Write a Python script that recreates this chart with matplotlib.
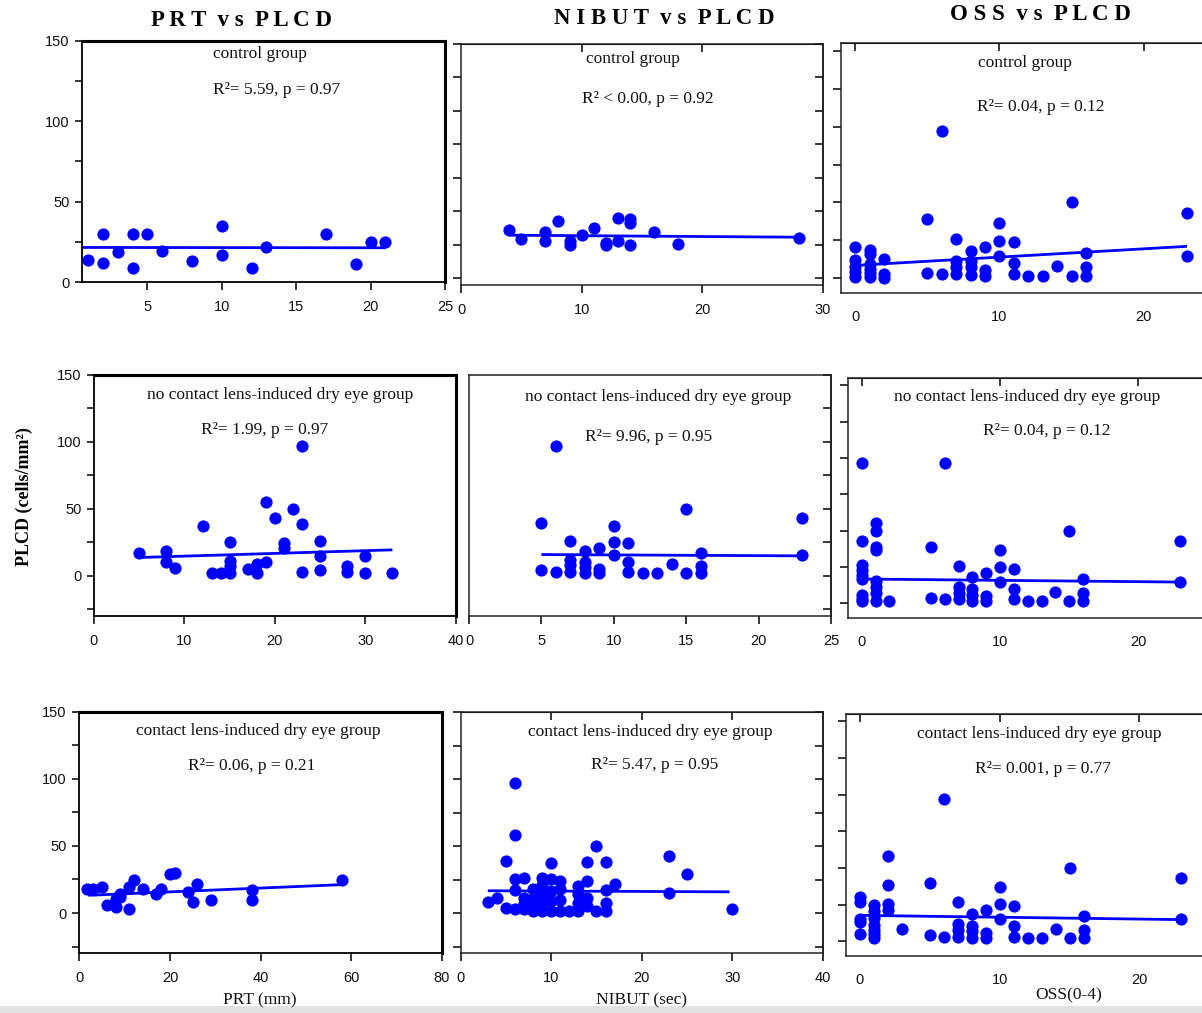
import matplotlib
matplotlib.use("Agg")
import matplotlib.pyplot as plt
from matplotlib.patches import Rectangle
import numpy as np

# ---------------- data ----------------
# Row 1: control group
prt_ctrl_x = [1, 2, 2, 3, 4, 4, 5, 6, 8, 10, 10, 12, 13, 17, 19, 20, 21]
prt_ctrl_y = [14, 30, 12, 18.5, 30, 9, 30, 19, 13, 35, 17, 9, 22, 30, 11, 25, 25]
prt_ctrl_line_x = [0.6, 21]
prt_ctrl_line_y = [21.5, 21.3]

nibut_ctrl_x = [4, 5, 7, 7, 8, 9, 9, 10, 11, 12, 12, 13, 13, 14, 14, 14, 16, 18, 28]
nibut_ctrl_y = [11.2, 4.3, 9.5, 2.5, 18.1, 2.5, 0, 7.5, 12.2, 1.3, 0, 19.9, 3.2, 19.2, 16.6, 0, 9.5, 0.5, 5.2]
nibut_ctrl_line_x = [4, 28]
nibut_ctrl_line_y = [7.2, 5.7]

oss_ctrl_x = [0, 0, 0, 0, 0, 1, 1, 1, 1, 1, 1, 2, 2, 2, 5, 5, 6, 6, 7, 7, 7, 7,
              8, 8, 8, 8, 9, 9, 9, 10, 10, 10, 11, 11, 11, 12, 13, 14, 15, 15,
              16, 16, 16, 23, 23]
oss_ctrl_y = [20.6, 12.2, 7.3, 4.0, 0.7, 18.8, 16.2, 9.5, 6.2, 3.3, 0.7, 12.8, 2.9, 0,
              38.9, 3.5, 96.9, 2.7, 25.7, 11.1, 7.3, 2.9, 17.9, 11.1, 7.3, 1.8,
              20.6, 5.5, 1.5, 36.7, 24.8, 14.6, 24.1, 10.0, 2.9, 1.5, 1.5, 7.7,
              50, 1.5, 16.8, 7.1, 1.5, 42.9, 14.6]
oss_ctrl_line_x = [0, 23]
oss_ctrl_line_y = [8.4, 21.0]

# Row 2: no contact lens-induced dry eye group
prt_nocl_x = [5, 8, 8, 9, 12, 13, 14, 15, 15, 15, 15, 17, 18, 18, 19, 19, 20, 21, 21,
              22, 23, 23, 23, 25, 25, 25, 28, 28, 30, 30, 33]
prt_nocl_y = [17, 18.2, 10, 6.2, 37, 2, 2, 25, 11, 7, 2, 5, 9, 2, 55, 10, 43, 24.4, 21,
              50, 97, 39, 3, 26, 15, 4, 7.5, 3, 15, 2, 2]
prt_nocl_line_x = [5, 33]
prt_nocl_line_y = [13.7, 19.4]

nibut_nocl_x = [5, 5, 6, 6, 7, 7, 7, 7, 8, 8, 8, 8, 9, 9, 9, 10, 10, 10, 11, 11, 11,
                12, 13, 14, 15, 15, 16, 16, 16, 23, 23]
nibut_nocl_y = [4, 39.3, 97, 3, 26, 12, 8, 3, 18.7, 10.7, 6.5, 2, 21, 5, 2, 37.3, 25.6,
                15.2, 24.4, 10, 3, 2, 2, 8.5, 50, 2, 17.4, 7.5, 2, 43.3, 15.2]
nibut_nocl_line_x = [5, 23]
nibut_nocl_line_y = [15.9, 14.9]

oss_nocl_x = [0, 0, 0, 0, 0, 0, 0, 0, 0, 1, 1, 1, 1, 1, 1, 1, 1, 2, 5, 5, 6, 6,
              7, 7, 7, 7, 8, 8, 8, 8, 9, 9, 9, 10, 10, 10, 11, 11, 11, 12, 13, 14,
              15, 15, 16, 16, 16, 23, 23]
oss_nocl_y = [96.8, 43, 26.4, 23, 19.5, 16.6, 5.7, 2.8, 1.8, 55.2, 49.9, 39.1, 36.8,
              15.6, 11.5, 6.9, 1.8, 1.8, 38.6, 3.7, 96.8, 2.8, 25.8, 11, 6.9, 2.8,
              17.9, 10.1, 5.7, 1.8, 21.2, 5.1, 1.8, 36.8, 24.8, 14.7, 23.7, 9.9, 2.8,
              1.8, 1.8, 7.8, 49.9, 1.8, 16.8, 7.1, 1.8, 43, 14.7]
oss_nocl_line_x = [0, 23]
oss_nocl_line_y = [16.8, 14.7]

# Row 3: contact lens-induced dry eye group
prt_cl_x = [1.8, 3.1, 5.1, 6, 8, 8, 9, 9, 11, 11, 12, 14, 17, 18, 20, 21, 24, 25, 26,
            29, 38, 38, 58]
prt_cl_y = [17.9, 17.9, 19.2, 6, 4.5, 10.4, 14.4, 11.9, 3, 19.4, 24.9, 17.9, 14.4,
            17.9, 29.1, 30.1, 15.4, 8.2, 21.9, 10, 17.4, 10, 24.9]
prt_cl_line_x = [2, 57.5]
prt_cl_line_y = [13.2, 21.1]

nibut_cl_x = [3, 4, 5, 5, 6, 6, 6, 6, 6, 7, 7, 7, 7, 8, 8, 8, 8, 9, 9, 9, 9, 9,
              10, 10, 10, 10, 10, 11, 11, 11, 11, 12, 13, 13, 13, 13, 14, 14, 14, 14,
              15, 15, 16, 16, 16, 16, 17, 23, 23, 25, 30]
nibut_cl_y = [8.2, 11.2, 39, 4, 97, 58.2, 25.4, 17.4, 3, 25.9, 11.2, 7.5, 3,
              17.9, 10.4, 6.2, 1.7, 26.6, 21.1, 12.9, 7.5, 1.7,
              37.3, 25.4, 16.2, 8.7, 1.7, 24.1, 17.9, 10, 1.7, 1.7,
              20.4, 14.4, 7.5, 1.7, 38.3, 24.1, 11.2, 5.5, 50, 1.7,
              38.3, 17.4, 7.5, 1.7, 21.4, 43, 15.4, 29.1, 3.2]
nibut_cl_line_x = [3, 29.7]
nibut_cl_line_y = [16.7, 15.9]

oss_cl_x = [0, 0, 0, 0, 0, 1, 1, 1, 1, 1, 1, 1, 2, 2, 2, 2, 3, 5, 5, 6, 6,
            7, 7, 7, 7, 8, 8, 8, 8, 9, 9, 9, 10, 10, 10, 11, 11, 11, 12, 13, 14,
            15, 15, 16, 16, 16, 23, 23]
oss_cl_y = [30.2, 26.6, 15.2, 13, 5.2, 24.8, 20.5, 15.9, 11.1, 8, 5.2, 2.3,
            58.4, 38.6, 25.7, 21.6, 8.4, 39.5, 4.1, 97, 3.2, 26.6, 12, 8, 3.2,
            18.4, 10.7, 6.8, 2.3, 21.1, 5.7, 2.3, 37.3, 25.5, 15.2, 24.3, 10.2, 3,
            2.3, 2.3, 8.4, 50, 2.3, 17.5, 7.5, 2.3, 43.2, 15.2]
oss_cl_line_x = [0, 23]
oss_cl_line_y = [17.7, 14.8]

col_titles = ["P R T  v s  P L C D", "N I B U T  v s  P L C D", "O S S  v s  P L C D"]
group_labels = ["control group",
                "no contact lens-induced dry eye group",
                "contact lens-induced dry eye group"]
stat_labels = [["R²= 5.59, p = 0.97", "R² < 0.00, p = 0.92", "R²= 0.04, p = 0.12"],
               ["R²= 1.99, p = 0.97", "R²= 9.96, p = 0.95", "R²= 0.04, p = 0.12"],
               ["R²= 0.06, p = 0.21", "R²= 5.47, p = 0.95", "R²= 0.001, p = 0.77"]]
x_axis_labels = ["PRT (mm)", "NIBUT (sec)", "OSS(0-4)"]
y_axis_label = "PLCD (cells/mm²)"

# ---------------- layout ----------------
W, H = 1202, 1013
fig = plt.figure(figsize=(W / 100, H / 100), dpi=100)
fig.patch.set_facecolor("white")

SERIF = ["Liberation Serif", "DejaVu Serif"]
SANS = ["Liberation Sans", "DejaVu Sans"]
BLUE = "#0000ff"


def rect(x0, y0, x1, y1):
    return [x0 / W, 1 - y1 / H, (x1 - x0) / W, (y1 - y0) / H]


def ftext(x, y, s, **kw):
    fig.text(x / W, 1 - y / H, s, ha="center", va="center", **kw)


panels = [
    dict(box=(82, 41, 445, 282), xlim=(0.6, 25), ylim=(0, 150), xt=[5, 10, 15, 20, 25],
         x=prt_ctrl_x, y=prt_ctrl_y, lx=prt_ctrl_line_x, ly=prt_ctrl_line_y,
         style="left", minor=[25, 75, 125], top=None),
    dict(box=(461, 44, 823, 285), xlim=(0, 30), ylim=(-30, 150), xt=[0, 10, 20, 30],
         x=nibut_ctrl_x, y=nibut_ctrl_y, lx=nibut_ctrl_line_x, ly=nibut_ctrl_line_y,
         style="mid", top=[10, 20]),
    dict(box=(840.7, 43.3, 1215.8, 293.3), xlim=(-1, 25), ylim=(-10, 155), xt=[0, 10, 20],
         x=oss_ctrl_x, y=oss_ctrl_y, lx=oss_ctrl_line_x, ly=oss_ctrl_line_y,
         style="right", top=[0, 10, 20]),
    dict(box=(94, 375, 455.7, 616), xlim=(0, 40), ylim=(-30, 150), xt=[0, 10, 20, 30, 40],
         x=prt_nocl_x, y=prt_nocl_y, lx=prt_nocl_line_x, ly=prt_nocl_line_y,
         style="left", minor=[-25, 25, 75, 125], top=None),
    dict(box=(469, 375, 831, 616), xlim=(0, 25), ylim=(-30, 150), xt=[0, 5, 10, 15, 20, 25],
         x=nibut_nocl_x, y=nibut_nocl_y, lx=nibut_nocl_line_x, ly=nibut_nocl_line_y,
         style="mid_noleft", top=None),
    dict(box=(848, 378, 1207.5, 618), xlim=(-1, 25), ylim=(-10, 155), xt=[0, 10, 20],
         x=oss_nocl_x, y=oss_nocl_y, lx=oss_nocl_line_x, ly=oss_nocl_line_y,
         style="right", top=[0, 10, 20]),
    dict(box=(79.3, 711.7, 442, 953.3), xlim=(0, 80), ylim=(-30, 150), xt=[0, 20, 40, 60, 80],
         x=prt_cl_x, y=prt_cl_y, lx=prt_cl_line_x, ly=prt_cl_line_y,
         style="left", minor=[-25, 25, 75, 125], top=None),
    dict(box=(460.7, 712.3, 822.7, 953.3), xlim=(0, 40), ylim=(-30, 150), xt=[0, 10, 20, 30, 40],
         x=nibut_cl_x, y=nibut_cl_y, lx=nibut_cl_line_x, ly=nibut_cl_line_y,
         style="mid", top=[10, 20, 30]),
    dict(box=(846, 714, 1209.3, 956), xlim=(-1, 25), ylim=(-10, 155), xt=[0, 10, 20],
         x=oss_cl_x, y=oss_cl_y, lx=oss_cl_line_x, ly=oss_cl_line_y,
         style="right", top=[0, 10, 20]),
]

for p in panels:
    ax = fig.add_axes(rect(*p["box"]))
    ax.set_xlim(*p["xlim"])
    ax.set_ylim(*p["ylim"])
    ax.set_facecolor("white")
    ax.plot(p["lx"], p["ly"], color=BLUE, lw=2.0, zorder=2, solid_capstyle="butt")
    ax.plot(p["x"], p["y"], "o", color=BLUE, ms=8.8, mew=0, zorder=3, clip_on=False)
    ax.set_xticks(p["xt"])
    ax.set_xticklabels([str(v) for v in p["xt"]], fontfamily=SANS, fontsize=10.5)
    st = p["style"]
    if st == "left":
        for s in ["top", "right"]:
            ax.spines[s].set_linewidth(2.2)
        for s in ["left", "bottom"]:
            ax.spines[s].set_linewidth(1.3)
        ax.set_yticks([0, 50, 100, 150])
        ax.set_yticklabels(["0", "50", "100", "150"], fontfamily=SANS, fontsize=10.5)
        ax.set_yticks(p["minor"], minor=True)
        ax.tick_params(axis="y", which="both", direction="out", length=5, width=1.1, pad=4)
        ax.tick_params(axis="x", which="both", direction="out", length=6, width=1.1, pad=7)
    else:
        for s in ax.spines.values():
            s.set_linewidth(1.1)
            s.set_color("#222222")
        if st == "right":
            ax.set_yticks([0, 25, 50, 75, 100, 125, 150])
            ax.tick_params(axis="x", length=0, pad=12)
        else:
            ax.set_yticks([-25, 0, 25, 50, 75, 100, 125, 150])
            ax.tick_params(axis="x", direction="out", length=6, width=1.1, pad=7)
        ax.set_yticklabels([])
        if st == "mid_noleft":
            ax.tick_params(axis="y", length=0)
        else:
            ax.tick_params(axis="y", direction="out", length=6, width=1.1)
        if st in ("mid", "mid_noleft"):
            sec = ax.secondary_yaxis("right")
            sec.set_yticks([-25, 0, 25, 50, 75, 100, 125, 150])
            sec.set_yticklabels([])
            sec.tick_params(direction="in", length=6, width=1.1)
            sec.spines["right"].set_linewidth(1.1)
        if p["top"]:
            sect = ax.secondary_xaxis("top")
            sect.set_xticks(p["top"])
            sect.set_xticklabels([])
            sect.tick_params(direction="in", length=6, width=1.1)
    ax.tick_params(labelcolor="#111111")

# column titles
title_pos = [(242, 20), (664, 19), (1040, 14)]
for (tx, ty), t in zip(title_pos, col_titles):
    ftext(tx, ty, t, fontfamily=SERIF, fontsize=16.5, fontweight="bold")

# group labels and statistics
group_pos = [[(260, 54), (633, 59), (1025, 63)],
             [(280, 395), (658, 397), (1027, 397)],
             [(258, 731), (650, 732), (1039, 734)]]
stat_pos = [[(277, 90), (648, 99), (1041, 107)],
            [(265, 430), (649, 437), (1047, 431)],
            [(252, 766), (655, 765), (1043, 769)]]
for r in range(3):
    for c in range(3):
        gx, gy = group_pos[r][c]
        ftext(gx, gy, group_labels[r], fontfamily=SERIF, fontsize=12.5, color="#111111")
        sx, sy = stat_pos[r][c]
        ftext(sx, sy, stat_labels[r][c], fontfamily=SERIF, fontsize=12.5, color="#111111")

# axis labels
xlab_pos = [(260, 1000), (641, 1000), (1069, 995)]
for (lx, ly), t in zip(xlab_pos, x_axis_labels):
    ftext(lx, ly, t, fontfamily=SERIF, fontsize=12.5, color="#111111")
fig.text(24 / W, 1 - 497 / H, y_axis_label, rotation=90, ha="center", va="center",
         fontfamily=SERIF, fontsize=13, fontweight="bold")

# light grey strip at the bottom edge
fig.add_artist(Rectangle((0, 0), 1, 7 / H, transform=fig.transFigure,
                         facecolor="#e2e2e2", edgecolor="none", zorder=0))

fig.savefig("out.png", dpi=100)
